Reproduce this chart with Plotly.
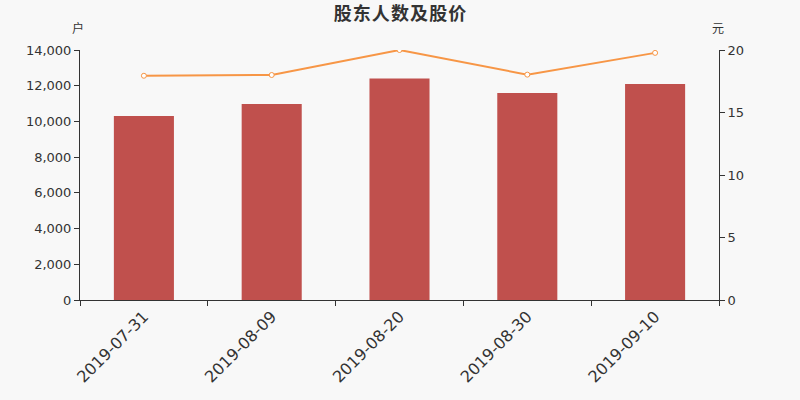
import plotly.graph_objects as go

dates = ["2019-07-31", "2019-08-09", "2019-08-20", "2019-08-30", "2019-09-10"]
holders = [10300, 10970, 12400, 11590, 12100]
prices = [17.94, 18.0, 20.0, 18.03, 19.77]

left_ticks = [0, 2000, 4000, 6000, 8000, 10000, 12000, 14000]
right_ticks = [0, 5, 10, 15, 20]

title_text = "股东人数及股价"

font_family = "DejaVu Sans, Noto Sans CJK SC, sans-serif"
axis_color = "#333333"
bg = "#f8f8f8"

fig = go.Figure()
fig.add_trace(go.Bar(
    x=dates, y=holders, name="股东人数",
    marker=dict(color="#c0504d", line=dict(width=0)),
    width=0.47, yaxis="y",
))
fig.add_trace(go.Scatter(
    x=dates, y=prices, name="股价", mode="lines+markers",
    line=dict(color="#f79646", width=2),
    marker=dict(symbol="circle", size=5, color="#ffffff",
                line=dict(color="#f79646", width=1)),
    yaxis="y2",
))

spaced_title = "\u200a".join(title_text)

fig.update_layout(
    width=800, height=400,
    paper_bgcolor=bg, plot_bgcolor=bg,
    margin=dict(l=80, r=81, t=50, b=100, autoexpand=False),
    showlegend=False,
    font=dict(family=font_family, color=axis_color, size=12),
    title=dict(text="<b>" + spaced_title + "</b>", x=0.5, xanchor="center",
               y=0.965, yanchor="middle",
               font=dict(family="Noto Sans CJK SC, sans-serif", size=18, color="#333333")),
    xaxis=dict(
        type="category", tickson="boundaries", automargin=False,
        showline=True, linecolor=axis_color, linewidth=1,
        ticks="outside", ticklen=5, tickcolor=axis_color,
        tickangle=-45, tickfont=dict(size=16, color=axis_color),
        showgrid=False, zeroline=False,
    ),
    yaxis=dict(
        range=[0, 14000], tickvals=left_ticks, tickformat=",d", automargin=False,
        showline=True, linecolor=axis_color, linewidth=1,
        ticks="outside", ticklen=5, tickcolor=axis_color,
        tickfont=dict(size=13, color=axis_color),
        showgrid=False, zeroline=False,
    ),
    yaxis2=dict(
        range=[0, 20], tickvals=right_ticks, overlaying="y", side="right",
        automargin=False,
        showline=True, linecolor=axis_color, linewidth=1,
        ticks="outside", ticklen=5, tickcolor=axis_color,
        tickfont=dict(size=13, color=axis_color),
        showgrid=False, zeroline=False,
    ),
)
plot_h = 400 - 50 - 100
unit_y = (400 - 100 - 28) / plot_h
fig.add_annotation(text="户", x=-0.003, xref="paper", xanchor="center",
                   y=unit_y, yref="paper", yanchor="middle", showarrow=False,
                   font=dict(size=12, color=axis_color, family="Noto Sans CJK SC, sans-serif"))
fig.add_annotation(text="元", x=0.998, xref="paper", xanchor="center",
                   y=unit_y, yref="paper", yanchor="middle", showarrow=False,
                   font=dict(size=12, color=axis_color, family="Noto Sans CJK SC, sans-serif"))

fig.write_html(
    "out.html",
    config={"displayModeBar": False},
    post_script="document.body.style.margin='0';document.body.style.background='%s';" % bg,
)
